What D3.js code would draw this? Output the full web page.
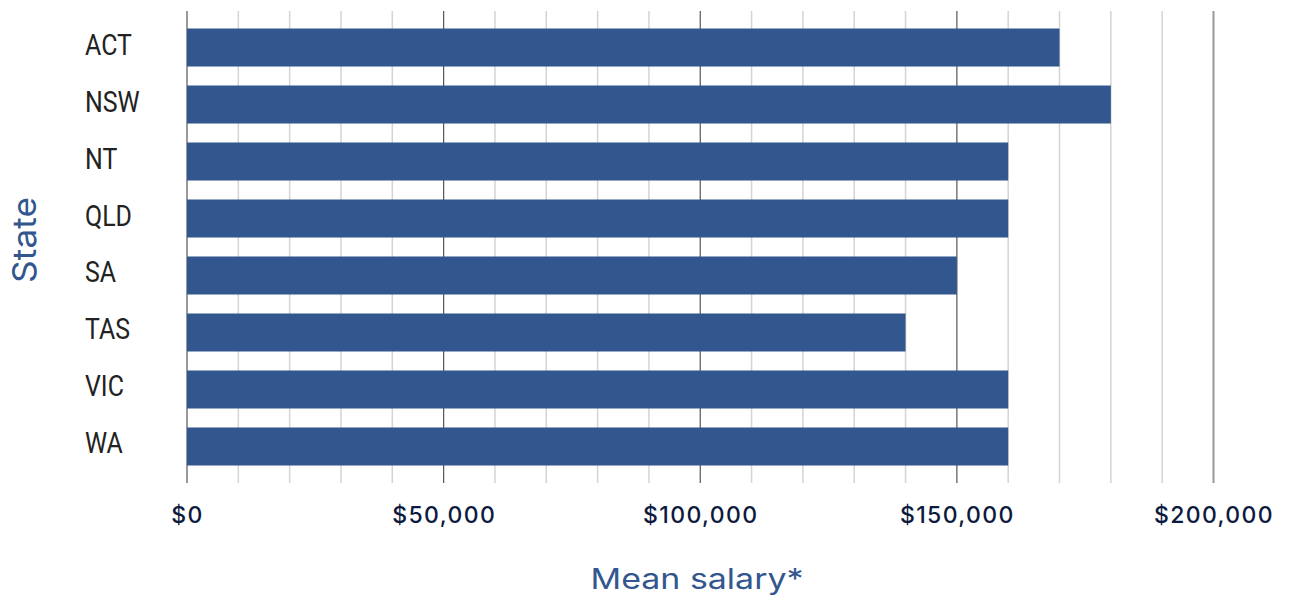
<!DOCTYPE html>
<html>
<head>
<meta charset="utf-8">
<script src="https://cdn.jsdelivr.net/npm/d3@7"></script>
<style>
  body { margin: 0; background: #fff; }
</style>
</head>
<body>
<div id="chart"></div>
<script>
// Mean salary by state
const states = ['ACT', 'NSW', 'NT', 'QLD', 'SA', 'TAS', 'VIC', 'WA'];
const meanSalary = [170000, 180000, 160000, 160000, 150000, 140000, 160000, 160000];
const tickValues = [0, 50000, 100000, 150000, 200000];
const tickLabels = ['$0', '$50,000', '$100,000', '$150,000', '$200,000'];

const width = 1295;
const height = 601;
const barColor = '#32578e';

const svg = d3.select('#chart')
  .append('svg')
  .attr('width', width)
  .attr('height', height);

const x = d3.scaleLinear()
  .domain([0, 200000])
  .range([187, 1213.5]);

const y = d3.scaleBand()
  .domain(states)
  .range([11, 483])
  .paddingInner(0.333)
  .paddingOuter(0.307);

// gridlines every 10k, darker at every 50k
const grid = d3.range(0, 200001, 10000);
svg.append('g')
  .selectAll('line')
  .data(grid)
  .enter().append('line')
  .attr('x1', d => x(d))
  .attr('x2', d => x(d))
  .attr('y1', 11)
  .attr('y2', 483)
  .attr('stroke', d => d === 200000 ? '#999' : (d % 50000 === 0 ? '#555' : '#d4d4d4'))
  .attr('stroke-width', d => d === 200000 ? 2 : (d % 50000 === 0 ? 1.2 : 1.5));

// bars
svg.append('g')
  .selectAll('rect')
  .data(states)
  .enter().append('rect')
  .attr('x', x(0))
  .attr('y', d => y(d))
  .attr('width', (d, i) => x(meanSalary[i]) - x(0))
  .attr('height', y.bandwidth())
  .attr('fill', barColor);

// category labels (narrow-ish look: squeeze horizontally)
svg.append('g')
  .selectAll('text')
  .data(states)
  .enter().append('text')
  .attr('transform', d => `translate(85, ${y(d) + y.bandwidth() / 2 + 7}) scale(0.86, 1)`)
  .attr('font-family', 'Roboto, sans-serif')
  .attr('font-size', 29)
  .attr('fill', '#222')
  .text(d => d);

// x axis tick labels
const xAxis = d3.axisBottom(x)
  .tickValues(tickValues)
  .tickFormat((d, i) => tickLabels[i])
  .tickSize(0)
  .tickPadding(0);

svg.append('g')
  .attr('transform', 'translate(0, 523)')
  .call(xAxis)
  .call(g => g.select('.domain').remove())
  .selectAll('text')
  .attr('dy', 0)
  .attr('font-family', 'Inter, sans-serif')
  .attr('font-size', 23)
  .attr('font-weight', 500)
  .attr('letter-spacing', '1.4px')
  .attr('fill', '#0c1a3e');

// axis titles
svg.append('text')
  .attr('x', 697)
  .attr('y', 589)
  .attr('text-anchor', 'middle')
  .attr('font-family', 'Inter, sans-serif')
  .attr('font-size', 28)
  .attr('textLength', 213)
  .attr('lengthAdjust', 'spacingAndGlyphs')
  .attr('fill', barColor)
  .text('Mean salary*');

svg.append('text')
  .attr('transform', 'translate(36, 240) rotate(-90)')
  .attr('text-anchor', 'middle')
  .attr('font-family', 'Inter, sans-serif')
  .attr('font-size', 33)
  .attr('textLength', 86)
  .attr('lengthAdjust', 'spacingAndGlyphs')
  .attr('fill', barColor)
  .text('State');
</script>
</body>
</html>
